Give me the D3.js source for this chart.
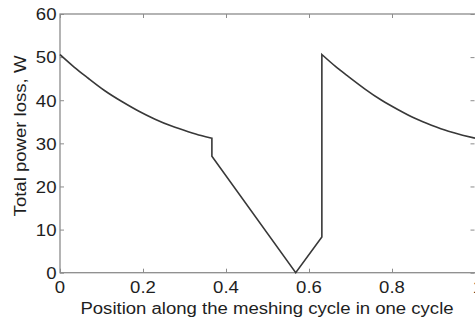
<!DOCTYPE html>
<html>
<head>
<meta charset="utf-8">
<script src="https://cdn.jsdelivr.net/npm/d3@7"></script>
<style>
  html, body { margin: 0; padding: 0; background: #fff; }
  svg { display: block; }
  text { font-family: "Liberation Sans", Arial, Helvetica, sans-serif; fill: #1e1e1e; }
</style>
</head>
<body>
<svg id="chart" width="475" height="323"></svg>
<script>
// First decay branch: position along the cycle and total power loss (W)
const decay1Position = [0, 0.034, 0.068, 0.108, 0.149, 0.189, 0.229, 0.269, 0.309, 0.34, 0.366];
const decay1Loss     = [50.6, 47.7, 45.1, 42.2, 39.7, 37.5, 35.6, 34.0, 32.7, 31.8, 31.2];

// Straight transition: drop, fall to zero, rise and jump back up
const rampPosition = [0.366, 0.366, 0.568, 0.631, 0.631];
const rampLoss     = [31.2, 27.0, 0, 8.3, 50.6];

// Second decay branch
const decay2Position = [0.631, 0.663, 0.695, 0.735, 0.775, 0.815, 0.855, 0.895, 0.936, 0.97, 1.0];
const decay2Loss     = [50.6, 47.9, 45.5, 42.6, 40.0, 37.8, 35.8, 34.2, 32.8, 31.9, 31.2];

const xTicks = [0, 0.2, 0.4, 0.6, 0.8, 1];
const xTickLabels = ["0", "0.2", "0.4", "0.6", "0.8", "1"];
const yTicks = [0, 10, 20, 30, 40, 50, 60];
const yTickLabels = ["0", "10", "20", "30", "40", "50", "60"];

const xTitle = "Position along the meshing cycle in one cycle";
const yTitle = "Total power loss, W";

const plot = { left: 60, right: 475, top: 14, bottom: 272.7 };
const stretch = 1.16;      // glyphs are drawn slightly wide
const fontSize = 16;
const axisColor = "#8c8c8c";

const svg = d3.select("#chart");

const x = d3.scaleLinear().domain([0, 1]).range([plot.left, plot.right]);
const y = d3.scaleLinear().domain([0, 60]).range([plot.bottom, plot.top]);

// Inward tick marks on all four sides
const tickLen = 4;
const axes = svg.append("g").attr("fill", "none");

axes.append("g").attr("transform", `translate(0,${plot.bottom})`)
  .call(d3.axisTop(x).tickValues(xTicks).tickSize(tickLen).tickFormat(""));
axes.append("g").attr("transform", `translate(0,${plot.top})`)
  .call(d3.axisBottom(x).tickValues(xTicks).tickSize(tickLen).tickFormat(""));
axes.append("g").attr("transform", `translate(${plot.left},0)`)
  .call(d3.axisRight(y).tickValues(yTicks).tickSize(tickLen).tickFormat(""));
axes.append("g").attr("transform", `translate(${plot.right - 0.5},0)`)
  .call(d3.axisLeft(y).tickValues(yTicks).tickSize(tickLen).tickFormat(""));

axes.selectAll(".domain").remove();
axes.selectAll(".tick line").attr("stroke", axisColor).attr("stroke-width", 1);

// Plot box
svg.append("rect")
  .attr("x", plot.left).attr("y", plot.top)
  .attr("width", plot.right - plot.left + 1)
  .attr("height", plot.bottom - plot.top)
  .attr("fill", "none")
  .attr("stroke", axisColor)
  .attr("stroke-width", 1.3);

// Tick labels
svg.append("g").selectAll("text")
  .data(xTicks)
  .join("text")
  .attr("transform", d => `translate(${x(d) + (d === 1 ? 3 : 0)},${plot.bottom + 20.5}) scale(${stretch},1)`)
  .attr("text-anchor", "middle")
  .attr("font-size", fontSize)
  .text((d, i) => xTickLabels[i]);

svg.append("g").selectAll("text")
  .data(yTicks)
  .join("text")
  .attr("transform", d => `translate(56.5,${y(d) + 6.3}) scale(${stretch},1)`)
  .attr("text-anchor", "end")
  .attr("font-size", fontSize)
  .text((d, i) => yTickLabels[i]);

// Axis titles
svg.append("text")
  .attr("transform", `translate(267,314) scale(${stretch},1)`)
  .attr("text-anchor", "middle")
  .attr("font-size", fontSize)
  .text(xTitle);

svg.append("text")
  .attr("transform", `translate(26,136) rotate(-90) scale(${stretch},1)`)
  .attr("text-anchor", "middle")
  .attr("font-size", fontSize)
  .text(yTitle);

// Power loss curve: smooth decay branches joined by straight segments
const zip = (p, v) => p.map((d, i) => [d, v[i]]);
const smooth = d3.line().x(d => x(d[0])).y(d => y(d[1])).curve(d3.curveNatural);
const straight = d3.line().x(d => x(d[0])).y(d => y(d[1])).curve(d3.curveLinear);

const parts = [
  smooth(zip(decay1Position, decay1Loss)),
  straight(zip(rampPosition, rampLoss)),
  smooth(zip(decay2Position, decay2Loss))
];
// Join the pieces into one continuous path
const pathD = parts.map((d, i) => i === 0 ? d : d.replace(/^M/, "L")).join("");

svg.append("path")
  .attr("d", pathD)
  .attr("fill", "none")
  .attr("stroke", "#383838")
  .attr("stroke-width", 1.6)
  .attr("stroke-linejoin", "miter");
</script>
</body>
</html>
